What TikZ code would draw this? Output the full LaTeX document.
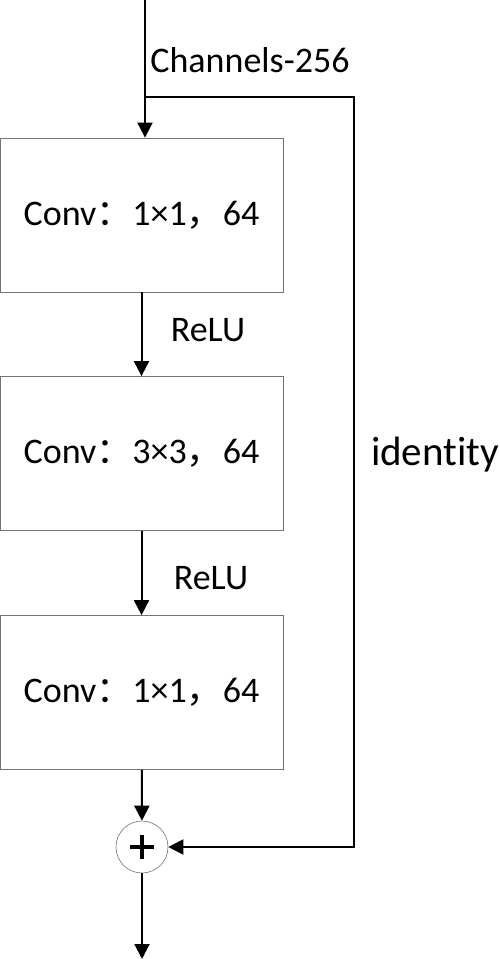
\documentclass[tikz,border=0pt]{standalone}
\usepackage{fontspec}
\setmainfont[Ligatures=NoCommon]{Carlito}
\newfontfamily\cjk{Noto Sans CJK SC}
\usetikzlibrary{arrows.meta}
\begin{document}
\begin{tikzpicture}[x=1pt, y=-1pt, line width=2pt, >={Triangle[width=15pt,length=15pt]},
  conv node/.style={rectangle,draw=black!55,line width=0.8pt,minimum width=283pt,minimum height=154pt,inner sep=0pt},
  sum node/.style={circle,draw=black!55,line width=0.6pt,minimum size=52pt,inner sep=0pt},
  every node/.style={font=\fontsize{36}{40}\selectfont}]
\useasboundingbox (0,0) rectangle (500,959);
\node [conv node](c1) at (141.5,215) {Conv{\cjk：}1×1{\cjk，}64};
\node [conv node](c2) at (141.5,453.5) {Conv{\cjk：}3×3{\cjk，}64};
\node [conv node](c3) at (141.5,692.5) {Conv{\cjk：}1×1{\cjk，}64};
\node [sum node](add) at (142,847) {};
\coordinate (in) at (145,0);
\coordinate (split) at (145,97);
\coordinate (out) at (142,959);
\node (chan) at (250,60) {Channels-256};
\node (relu1) at (208,330) {ReLU};
\node (relu2) at (211,578) {ReLU};
\node [font=\fontsize{41}{46}\selectfont] (ident) at (435,455) {identity};
% plus sign
\draw [line width=4pt] ([xshift=-12pt]add.center) -- ([xshift=12pt]add.center)
	([yshift=-12pt]add.center) -- ([yshift=12pt]add.center);
\draw [->] (in) -- (c1.north -| in);
\draw [->] (split) -- (354,97) -- (354,847) -- (add.east);
\path
	(c1) edge [->] (c2)
	(c2) edge [->] (c3)
	(c3) edge [->] (add)
	(add) edge [->] (out)
	;
\end{tikzpicture}
\end{document}
